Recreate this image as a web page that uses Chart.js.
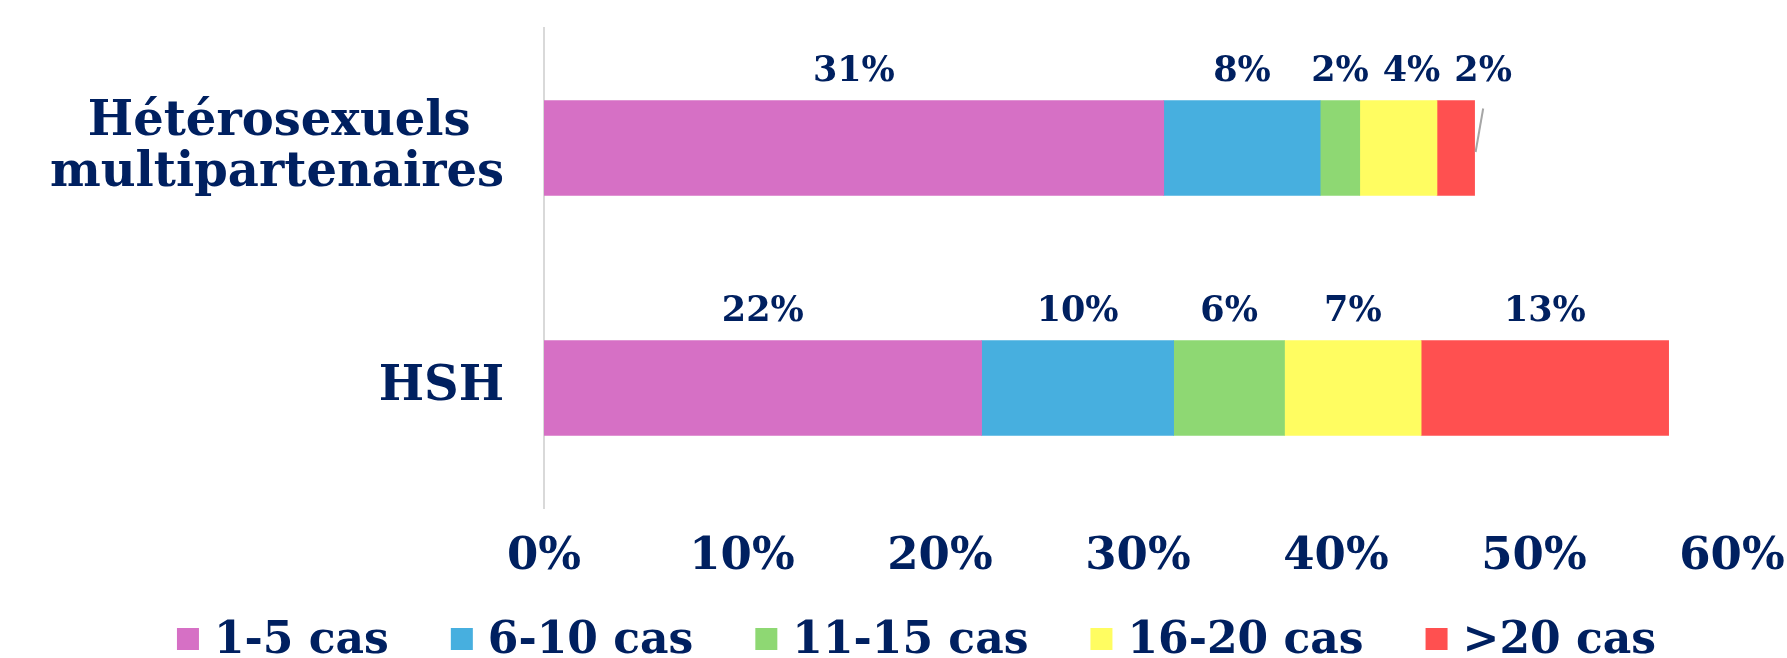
<!DOCTYPE html>
<html>
<head>
<meta charset="utf-8">
<script src="https://cdn.jsdelivr.net/npm/chart.js@4.4.1/dist/chart.umd.min.js"></script>
<style>
  html, body { margin: 0; padding: 0; background: #ffffff; }
  #wrap { width: 1787px; height: 658px; }
</style>
</head>
<body>
<div id="wrap"><canvas id="chart" width="1787" height="658"></canvas></div>
<script>
const categories = [["Hétérosexuels", "multipartenaires"], "HSH"];
const seriesNames = ["1-5 cas", "6-10 cas", "11-15 cas", "16-20 cas", ">20 cas"];
const cas1to5 = [31.3, 22.1];
const cas6to10 = [7.9, 9.7];
const cas11to15 = [2.0, 5.6];
const cas16to20 = [3.9, 6.9];
const casOver20 = [1.9, 12.5];
const xTicks = [0, 10, 20, 30, 40, 50, 60];

const seriesValues = [cas1to5, cas6to10, cas11to15, cas16to20, casOver20];
const colors = ["#d670c5", "#47afdf", "#8ed873", "#fffd61", "#ff5050"];
const navy = "#002060";
const serif = "'DejaVu Serif', serif";

// labels above each segment, nudged right when they collide, with a leader line
const segmentLabels = {
  id: "segmentLabels",
  afterDatasetsDraw(chart) {
    const ctx = chart.ctx;
    ctx.save();
    ctx.font = "bold 35px " + serif;
    ctx.fillStyle = navy;
    ctx.textAlign = "center";
    ctx.textBaseline = "bottom";
    categories.forEach((cat, index) => {
      let prevRight = -Infinity;
      chart.data.datasets.forEach((ds, dsIndex) => {
        const bar = chart.getDatasetMeta(dsIndex).data[index];
        const text = Math.round(ds.data[index]) + "%";
        const w = ctx.measureText(text).width;
        const left = Math.min(bar.x, bar.base);
        const right = Math.max(bar.x, bar.base);
        let x = (left + right) / 2;
        if (x - w / 2 < prevRight + 14) x = prevRight + 14 + w / 2;
        const top = bar.y - bar.height / 2;
        const y = top - 11;
        if (x > right) {
          ctx.strokeStyle = "#a6a6a6";
          ctx.lineWidth = 2;
          ctx.beginPath();
          ctx.moveTo(x, top + 8);
          ctx.lineTo(right + 1, bar.y + 4);
          ctx.stroke();
        }
        ctx.fillText(text, x, y);
        prevRight = x + w / 2;
      });
    });
    ctx.restore();
  },
};

// single-row legend along the bottom edge
const bottomLegend = {
  id: "bottomLegend",
  afterDraw(chart) {
    const ctx = chart.ctx;
    const box = 22;
    const textGap = 15;
    const itemGap = 62;
    ctx.save();
    ctx.font = "bold 44px " + serif;
    ctx.textBaseline = "alphabetic";
    ctx.textAlign = "left";
    const items = chart.data.datasets.map((ds) => ({
      text: ds.label,
      color: ds.backgroundColor,
      width: box + textGap + ctx.measureText(ds.label).width,
    }));
    const total = items.reduce((s, it) => s + it.width, 0) + itemGap * (items.length - 1);
    let x = chart.width / 2 + 23 - total / 2;
    const baseline = chart.height - 5;
    items.forEach((it) => {
      ctx.fillStyle = it.color;
      ctx.fillRect(x, baseline - 25, box, box);
      ctx.fillStyle = navy;
      ctx.fillText(it.text, x + box + textGap, baseline);
      x += it.width + itemGap;
    });
    ctx.restore();
  },
};

// centre the lines of a two-line category label (labels are right aligned)
const centreLines = (label) => {
  if (!Array.isArray(label)) return label;
  const longest = Math.max(...label.map((l) => l.length));
  return label.map((l) => l + " ".repeat(Math.round((longest - l.length) / 2)));
};

new Chart(document.getElementById("chart"), {
  type: "bar",
  data: {
    labels: categories,
    datasets: seriesValues.map((values, i) => ({
      label: seriesNames[i],
      data: values,
      backgroundColor: colors[i],
      borderWidth: 0,
      barThickness: 95,
    })),
  },
  options: {
    indexAxis: "y",
    responsive: false,
    animation: false,
    layout: { padding: { top: 28, right: 55, bottom: 70, left: 0 } },
    plugins: {
      legend: { display: false },
      tooltip: { enabled: false },
    },
    scales: {
      x: {
        stacked: true,
        min: xTicks[0],
        max: xTicks[xTicks.length - 1],
        afterBuildTicks: (scale) => {
          scale.ticks = xTicks.map((v) => ({ value: v }));
        },
        afterFit: (scale) => {
          scale.height = 80;
          scale.paddingLeft = 0;
          scale.paddingRight = 0;
        },
        grid: { display: false, drawTicks: false },
        border: { display: false },
        ticks: {
          color: navy,
          padding: 22,
          maxRotation: 0,
          font: { family: serif, size: 45, weight: "bold" },
          callback: (v) => v + "%",
        },
      },
      y: {
        stacked: true,
        afterFit: (scale) => {
          scale.width = 544;
          scale.paddingTop = 0;
          scale.paddingBottom = 0;
        },
        grid: { display: false, drawTicks: false },
        border: { display: true, color: "#d9d9d9", width: 2 },
        ticks: {
          color: navy,
          padding: 40,
          crossAlign: "near",
          font: { family: serif, size: 48, weight: "bold", lineHeight: 1.05 },
          callback: function (v, i) {
            return centreLines(this.getLabelForValue(v));
          },
        },
      },
    },
  },
  plugins: [segmentLabels, bottomLegend],
});
</script>
</body>
</html>
